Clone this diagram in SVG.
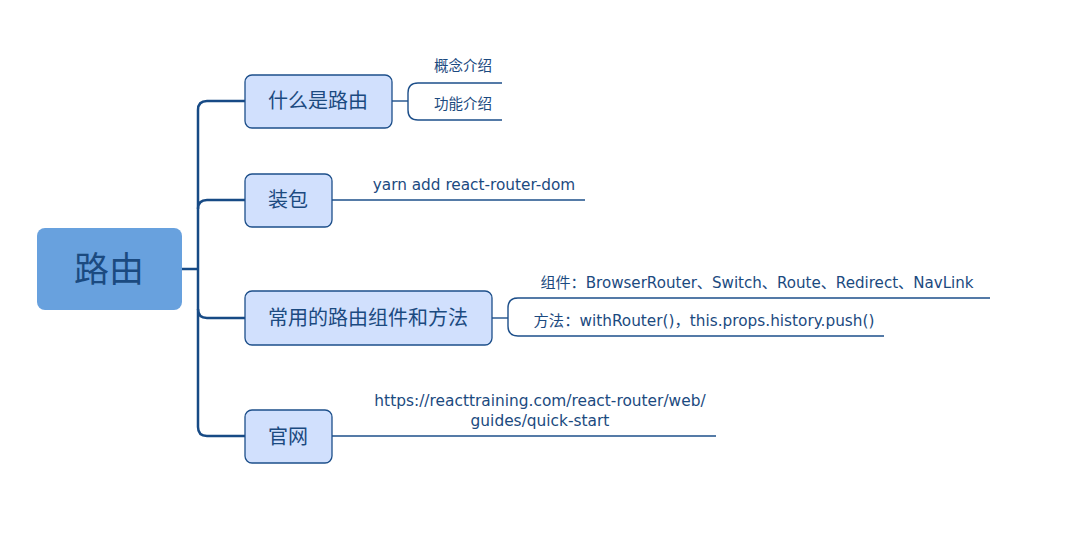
<svg xmlns="http://www.w3.org/2000/svg" width="1077" height="550" viewBox="0 0 1077 550">
<style>
.t{font-family:"DejaVu Sans","Noto Sans CJK SC",sans-serif;fill:#1b4a80}
.node{fill:#d1e0fd;stroke:#1d4f8a;stroke-width:1.3}
.main{fill:none;stroke:#174a85;stroke-width:2.5}
.sub{fill:none;stroke:#1d4f8a;stroke-width:1.4}
</style>
<rect width="1077" height="550" fill="#fff"/>
<g id="connectors">
<path class="main" d="M182 269 H198"/>
<path class="main" d="M245 101 H207 Q198 101 198 110 V427 Q198 436 207 436 H245"/>
<path class="main" d="M198 209 Q198 200 207 200 H245"/>
<path class="main" d="M198 309 Q198 318 207 318 H245"/>
<path class="sub" d="M392 101 H408"/>
<path class="sub" d="M502 83 H418 Q408 83 408 93 V110 Q408 120 418 120 H502"/>
<path class="sub" d="M332 200 H585"/>
<path class="sub" d="M492 318 H508"/>
<path class="sub" d="M990 298 H518 Q508 298 508 308 V326 Q508 336 518 336 H884"/>
<path class="sub" d="M332 436 H716"/>
</g>
<g id="root">
<rect x="37" y="228" width="145" height="82" rx="8" fill="#68a1de"/>
<text class="t" x="109" y="282" font-size="35" text-anchor="middle" fill="#0f3d73">路由</text>
</g>
<g id="n1">
<rect class="node" x="245" y="75" width="147" height="53" rx="7"/>
<text class="t" x="318" y="108" font-size="20" text-anchor="middle">什么是路由</text>
</g>
<g id="n1a"><text class="t" x="463" y="71" font-size="14.5" text-anchor="middle">概念介绍</text></g>
<g id="n1b"><text class="t" x="463" y="109" font-size="14.5" text-anchor="middle">功能介绍</text></g>
<g id="n2">
<rect class="node" x="245" y="174" width="87" height="53" rx="7"/>
<text class="t" x="288" y="207" font-size="20" text-anchor="middle">装包</text>
</g>
<g id="n2a"><text class="t" x="474" y="190" font-size="15.3" text-anchor="middle">yarn add react-router-dom</text></g>
<g id="n3">
<rect class="node" x="245" y="291" width="247" height="54" rx="7"/>
<text class="t" x="368" y="325" font-size="20" text-anchor="middle">常用的路由组件和方法</text>
</g>
<g id="n3a"><text class="t" x="757" y="288" font-size="15.1" text-anchor="middle">组件：BrowserRouter、Switch、Route、Redirect、NavLink</text></g>
<g id="n3b"><text class="t" x="704" y="326" font-size="15.3" text-anchor="middle">方法：withRouter()，this.props.history.push()</text></g>
<g id="n4">
<rect class="node" x="245" y="410" width="87" height="53" rx="7"/>
<text class="t" x="288" y="444" font-size="20" text-anchor="middle">官网</text>
</g>
<g id="n4a"><text class="t" x="540" y="406" font-size="15.4" text-anchor="middle">https://reacttraining.com/react-router/web/<tspan x="540" y="426">guides/quick-start</tspan></text></g>
</svg>
